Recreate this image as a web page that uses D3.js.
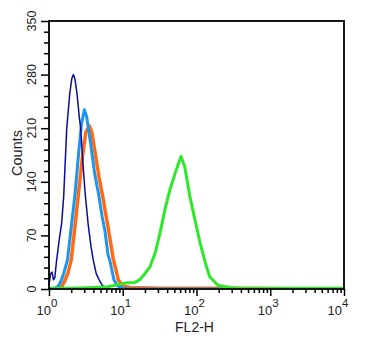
<!DOCTYPE html>
<html>
<head>
<meta charset="utf-8">
<script src="https://cdn.jsdelivr.net/npm/d3@7"></script>
<style>
  html, body { margin: 0; padding: 0; background: #fff; }
  svg { display: block; }
  text { font-family: "Liberation Sans", Arial, Helvetica, sans-serif; fill: #222; }
</style>
</head>
<body>
<svg id="chart" width="366" height="343"></svg>
<script>
// FL2-H histogram overlay: four samples, counts per fluorescence channel

// Dark blue (thin) sample
const navyFL2 = [1.00, 1.05, 1.10, 1.15, 1.20, 1.26, 1.38, 1.48, 1.58, 1.74, 1.91, 2.04, 2.14, 2.24, 2.40, 2.57, 2.69, 2.88, 3.09, 3.39, 3.72, 3.98, 4.37, 4.79, 5.25, 6.03, 7.08, 10000];
const navyCounts = [5, 20, 22, 12, 15, 35, 65, 85, 120, 210, 255, 275, 280, 275, 255, 225, 210, 165, 125, 85, 55, 38, 20, 12, 5, 1, 0, 0];

// Light blue sample
const skyFL2 = [1.00, 1.12, 1.32, 1.45, 1.58, 1.78, 2.00, 2.26, 2.51, 2.75, 3.02, 3.24, 3.67, 4.17, 4.68, 5.25, 5.75, 6.31, 6.76, 7.59, 8.51, 10.0, 12.6, 10000];
const skyCounts = [0, 0, 3, 10, 20, 38, 80, 125, 175, 215, 234, 225, 190, 150, 125, 95, 75, 45, 35, 12, 4, 1, 0, 0];

// Orange sample
const orangeFL2 = [1.00, 1.26, 1.51, 1.66, 1.82, 2.00, 2.24, 2.51, 2.82, 3.16, 3.52, 3.80, 4.27, 4.79, 5.37, 6.31, 7.41, 8.71, 10.0, 12.6, 31.6, 100, 200, 10000];
const orangeCounts = [0, 0, 4, 12, 22, 38, 80, 125, 170, 205, 213, 205, 175, 145, 120, 81, 40, 12, 4, 2, 1, 1, 1, 0];

// Green sample
const greenFL2 = [1.00, 2.00, 3.98, 6.31, 8.91, 11.2, 14.1, 17.0, 19.95, 23.4, 27.5, 32.0, 37.2, 43.7, 51.3, 57.5, 61.7, 69.2, 81.3, 95.5, 112, 132, 151, 195, 282, 398, 1000, 3162, 10000];
const greenCounts = [1, 1, 2, 3, 6, 8, 8, 12, 20, 29, 47, 73, 103, 130, 151, 165, 173, 160, 121, 90, 60, 34, 16, 5, 2, 1, 1, 1, 1];

// Axis ticks
const xTickValues = [1, 10, 100, 1000, 10000];
const xTickExponents = ["0", "1", "2", "3", "4"];
const yTickValues = [0, 70, 140, 210, 280, 350];

const series = [
  { xs: orangeFL2, ys: orangeCounts, color: "#ff6a14", width: 3.5 },
  { xs: skyFL2, ys: skyCounts, color: "#1e96ee", width: 3 },
  { xs: navyFL2, ys: navyCounts, color: "#0b0b9e", width: 1.5 },
  { xs: greenFL2, ys: greenCounts, color: "#2ee82a", width: 3 }
];

const svg = d3.select("#chart");
const plotLeft = 49, plotRight = 344, plotTop = 21, plotBottom = 289;

const x = d3.scaleLog().domain([1, 10000]).range([plotLeft, plotRight]);
const y = d3.scaleLinear().domain([0, 350]).range([plotBottom, plotTop]);

// Curves
const line = d3.line().x(d => x(d[0])).y(d => y(d[1]));
svg.append("defs").append("clipPath").attr("id", "plotClip")
  .append("rect").attr("x", plotLeft).attr("y", plotTop - 2)
  .attr("width", plotRight - plotLeft).attr("height", plotBottom - plotTop + 1);

const curves = svg.append("g").attr("clip-path", "url(#plotClip)");
series.forEach(s => {
  curves.append("path")
    .datum(d3.zip(s.xs, s.ys))
    .attr("d", line)
    .attr("fill", "none")
    .attr("stroke", s.color)
    .attr("stroke-width", s.width)
    .attr("stroke-linejoin", "round");
});

// Frame
svg.append("rect")
  .attr("x", plotLeft).attr("y", plotTop)
  .attr("width", plotRight - plotLeft).attr("height", plotBottom - plotTop)
  .attr("fill", "none").attr("stroke", "#000").attr("stroke-width", 1.8);

// X axis: major decades plus minor ticks 2..9
const minorX = [];
for (let d = 1; d < 10000; d *= 10) for (let m = 2; m <= 9; m++) minorX.push(d * m);

const xMajor = svg.append("g").attr("transform", `translate(0,${plotBottom})`)
  .call(d3.axisBottom(x).tickValues(xTickValues).tickSize(7).tickFormat(""));
const xMinor = svg.append("g").attr("transform", `translate(0,${plotBottom})`)
  .call(d3.axisBottom(x).tickValues(minorX).tickSize(4).tickFormat(""));
[xMajor, xMinor].forEach(g => {
  g.select(".domain").remove();
  g.selectAll(".tick line").attr("stroke", "#000").attr("stroke-width", 1.5);
});

// X tick labels as 10 with superscript exponent; the last one is pulled in from the edge
const xLabels = svg.append("g");
xTickValues.forEach((v, i) => {
  const shift = i === xTickValues.length - 1 ? -6 : -2;
  const t = xLabels.append("text")
    .attr("x", x(v) + shift).attr("y", 315)
    .attr("text-anchor", "middle")
    .attr("font-size", 13);
  t.append("tspan").text("10");
  t.append("tspan").attr("dy", -8).attr("font-size", 11.5).text(xTickExponents[i]);
});

svg.append("text")
  .attr("x", (plotLeft + plotRight) / 2 - 2).attr("y", 332)
  .attr("text-anchor", "middle").attr("font-size", 14)
  .text("FL2-H");

// Y axis: labelled ticks every 70, minor every 14
const minorY = d3.range(0, 351, 14).filter(v => v % 70 !== 0);
const yMajor = svg.append("g").attr("transform", `translate(${plotLeft},0)`)
  .call(d3.axisLeft(y).tickValues(yTickValues).tickSize(8).tickFormat(""));
const yMinor = svg.append("g").attr("transform", `translate(${plotLeft},0)`)
  .call(d3.axisLeft(y).tickValues(minorY).tickSize(5).tickFormat(""));
[yMajor, yMinor].forEach(g => {
  g.select(".domain").remove();
  g.selectAll(".tick line").attr("stroke", "#000").attr("stroke-width", 1.5);
});

svg.append("g").selectAll("text")
  .data(yTickValues)
  .join("text")
  .attr("transform", d => `translate(36,${y(d)}) rotate(-90)`)
  .attr("text-anchor", "middle")
  .attr("font-size", 12.5)
  .text(d => d);

svg.append("text")
  .attr("transform", `translate(21.5,153) rotate(-90)`)
  .attr("text-anchor", "middle").attr("font-size", 14.5)
  .text("Counts");
</script>
</body>
</html>
